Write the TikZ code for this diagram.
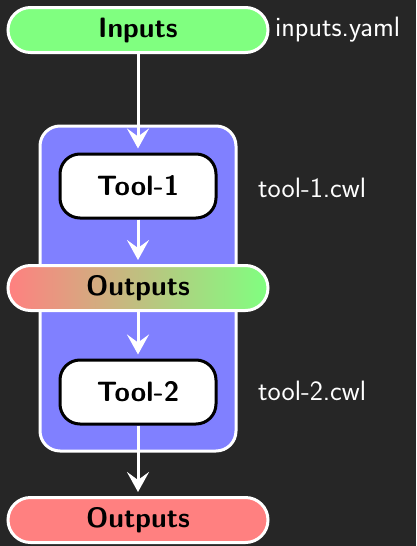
\documentclass[tikz,border=0pt]{standalone}
\usepackage{fontspec}
\usetikzlibrary{arrows.meta}
\definecolor{bg}{HTML}{262626}
\definecolor{ingreen}{HTML}{80FF80}
\definecolor{outred}{HTML}{FF8080}
\definecolor{boxblue}{HTML}{8080FF}
\tikzset{
  base/.style={font=\sffamily\bfseries\fontsize{28}{34}\selectfont, text=black, line width=3pt, inner sep=0pt},
  pill/.style={base, draw=white, minimum width=260pt, minimum height=45pt, rounded corners=22.5pt},
  toolbox/.style={base, draw=black, fill=white, minimum width=156pt, minimum height=64pt, rounded corners=20pt},
  group/.style={draw=white, line width=3pt, fill=boxblue, minimum width=196pt, minimum height=325pt, rounded corners=20pt, inner sep=0pt},
  lbl/.style={font=\sffamily\fontsize{28}{34}\selectfont, text=white, anchor=west, inner sep=0pt},
  flow/.style={draw=white, line width=3pt, -{Stealth[length=20pt, width=22pt, inset=8pt]}, shorten >=4pt}
}
\begin{document}
\begin{tikzpicture}[x=1pt, y=-1pt]
  \fill[bg] (0,0) rectangle (416,546);
  \useasboundingbox (0,0) rectangle (416,546);
  \node[group] (grp) at (138,288.5) {};
  \node[pill, fill=ingreen] (in) at (138,30) {Inputs};
  \node[toolbox] (t1) at (138,186) {Tool-1};
  \node[pill, left color=outred, right color=ingreen] (o1) at (138,288) {Outputs};
  \node[toolbox] (t2) at (138,392) {Tool-2};
  \node[pill, fill=outred] (o2) at (138,520) {Outputs};
  \node[lbl] (l0) at (275,30) {inputs.yaml};
  \node[lbl] (l1) at (258,188) {tool-1.cwl};
  \node[lbl] (l2) at (258,391) {tool-2.cwl};
  \draw[flow] (in) -- (t1);
  \draw[flow] (t1) -- (o1);
  \draw[flow] (o1) -- (t2);
  \draw[flow] (t2) -- (o2);
\end{tikzpicture}
\end{document}
